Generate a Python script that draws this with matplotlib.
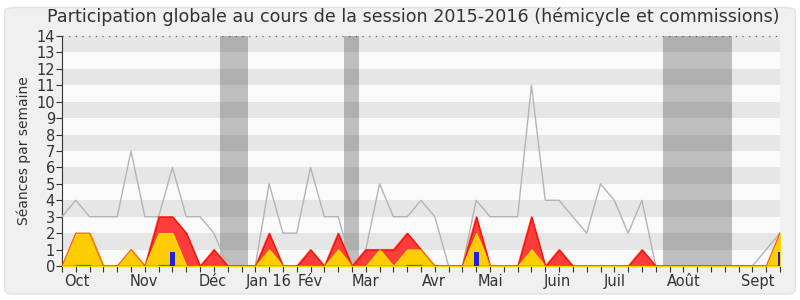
import numpy as np
import matplotlib.pyplot as plt
from matplotlib.patches import FancyBboxPatch

# weekly values, week 0 .. 52
weeks = np.arange(53)
total = [3, 4, 3, 3, 3, 7, 3, 3, 6, 3, 3, 2, 0, 0, 0, 5, 2, 2, 6, 3,
         3, 0, 1, 5, 3, 3, 4, 3, 0, 0, 4, 3, 3, 3, 11, 4, 4, 3, 2, 5,
         4, 2, 4, 0, 0, 0, 0, 0, 0, 0, 0, 1, 2]
hemi = [0, 2, 2, 0, 0, 1, 0, 3, 3, 2, 0, 1, 0, 0, 0, 2, 0, 0, 1, 0,
        2, 0, 1, 1, 1, 2, 1, 0, 0, 0, 3, 0, 0, 0, 3, 0, 1, 0, 0, 0,
        0, 0, 1, 0, 0, 0, 0, 0, 0, 0, 0, 0, 2]
comm = [0, 2, 2, 0, 0, 1, 0, 2, 2, 0, 0, 0, 0, 0, 0, 1, 0, 0, 0, 0,
        1, 0, 0, 1, 0, 1, 1, 0, 0, 0, 2, 0, 0, 0, 1, 0, 0, 0, 0, 0,
        0, 0, 0, 0, 0, 0, 0, 0, 0, 0, 0, 0, 2]
green = [0, 0.05, 0.05, 0, 0, 0, 0, 0.05, 0.05, 0, 0, 0, 0, 0, 0, 0, 0, 0, 0, 0,
         0, 0, 0, 0, 0, 0.05, 0.05, 0, 0, 0, 0.05, 0, 0, 0, 0, 0, 0, 0, 0, 0,
         0, 0, 0, 0, 0, 0, 0, 0, 0, 0, 0, 0, 0]
question_weeks = [8, 30, 52]
question_vals = [0.85, 0.85, 0.85]

vacances = [(11.45, 13.45), (20.4, 21.5), (43.5, 48.55)]

months = ['Oct', 'Nov', 'Déc', 'Jan 16', 'Fév', 'Mar', 'Avr', 'Mai', 'Juin', 'Juil', 'Août', 'Sept']
month_pos = [1.1, 5.9, 10.9, 15.0, 18.0, 22.0, 26.9, 31.0, 35.9, 40.0, 45.0, 50.4]

fig = plt.figure(figsize=(8, 3), dpi=100, facecolor='white')
fig.patches.append(FancyBboxPatch((0.006, 0.02), 0.988, 0.955, boxstyle='round,pad=0,rounding_size=0.012',
                                  transform=fig.transFigure, facecolor='#f0f0f0',
                                  edgecolor='#e2e2e2', lw=1, zorder=-10))
ax = fig.add_axes([0.0775, 0.1133, 0.8975, 0.7667])
ax.set_facecolor('#fafafa')

for a, b in vacances:
    ax.axvspan(a, b, color='#bebebe', lw=0, zorder=1)
for y in range(1, 14, 2):
    ax.axhspan(y, y + 1, color='black', alpha=0.08, lw=0, zorder=2)

ax.plot(weeks, total, color='#b4b4b4', lw=1, zorder=3)
ax.fill_between(weeks, 0, hemi, facecolor='#ff3333', edgecolor='#ff0000', lw=1, alpha=0.95, zorder=4)
ax.fill_between(weeks, 0, comm, facecolor='#ffd700', edgecolor='#ffe000', lw=1, alpha=0.95, zorder=5)
ax.plot(weeks, hemi, color='#ff2000', lw=1, alpha=0.55, zorder=5.5)
g = np.ma.masked_equal(np.array(green), 0)
ax.plot(weeks, g, color='#00cc00', lw=1, zorder=6)
ax.bar(question_weeks, question_vals, width=0.36, color='#2222dd', zorder=7)
ax.axhline(0, color='#5a2a00', lw=1, zorder=8)

ax.set_xlim(0, 52)
ax.set_ylim(0, 14)
ax.set_yticks(range(15))
ax.set_xticks(weeks)
ax.set_xticklabels([])
ax.tick_params(axis='x', length=4, direction='out', color='#333333')
ax.tick_params(axis='y', length=4, direction='out', pad=1, labelsize=10.5, labelcolor='#333333', color='#333333')
for m, p in zip(months, month_pos):
    ax.annotate(m, xy=(p, 0), xycoords=('data', 'axes fraction'), xytext=(0, -6),
                textcoords='offset points', ha='center', va='top', fontsize=10.5, color='#333333')
for s in ['top', 'right']:
    ax.spines[s].set_visible(False)
ax.spines['left'].set_color('#333333')
ax.spines['bottom'].set_color('#333333')
ax.axhline(14, color='#555555', lw=0.8, ls=(0, (1, 5)), zorder=9, clip_on=False)

ax.set_ylabel('Séances par semaine', fontsize=10, color='#333333', labelpad=4)
fig.text(0.516, 0.925, 'Participation globale au cours de la session 2015-2016 (hémicycle et commissions)',
         ha='center', va='baseline', fontsize=12.6, color='#333333')

fig.savefig('out.png', dpi=100, facecolor=fig.get_facecolor())
